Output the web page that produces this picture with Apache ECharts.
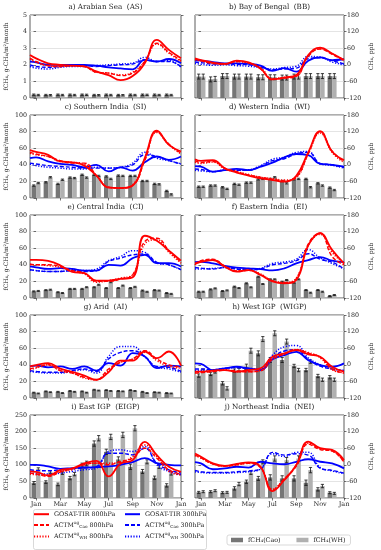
<!DOCTYPE html>
<html><head><meta charset="utf-8">
<script src="https://cdn.jsdelivr.net/npm/echarts@6/dist/echarts.min.js"></script>
<style>html,body{margin:0;padding:0;background:#fff}#c{width:381px;height:550px}</style>
</head><body><div id="c"></div>
<script>
// x positions (months, Jan=0) at which the curves were read
const lineX = [-0.5,0,1,2,3,4,5,6,7,8,9,10,11,12];
const barX = [0,1,2,3,4,5,6,7,8,9,10,11];
const monthTicks = [0,2,4,6,8,10,12];
const monthNames = ['Jan','Mar','May','Jul','Sep','Nov','Jan'];

// a) Arabian Sea (left-axis units)
const AS_TIR800 = [2.59,2.39,2.09,2.0,1.95,1.9,1.6,1.38,1.08,1.33,2.1,3.5,2.9,2.39];
const AS_CAO800 = [2.4,2.2,1.95,1.9,1.95,1.9,1.55,1.5,1.35,1.5,2.2,3.3,2.75,2.25];
const AS_WH800  = [2.35,2.15,1.95,1.9,1.95,1.9,1.55,1.5,1.4,1.55,2.2,3.25,2.7,2.2];
const AS_TIR300 = [2.2,2.15,2.0,2.0,2.0,2.0,1.95,1.85,1.78,1.73,2.3,2.2,2.35,2.1];
const AS_CAO300 = [2.0,1.9,1.85,1.9,1.95,1.95,1.9,1.95,2.0,2.05,2.3,2.2,2.2,1.9];
const AS_WH300  = [1.9,1.8,1.75,1.85,1.9,1.9,1.95,2.0,2.05,2.1,2.45,2.2,2.25,1.85];
const AS_barCao = [0.2,0.18,0.2,0.2,0.2,0.18,0.2,0.18,0.2,0.2,0.2,0.2];
const AS_barWH  = [0.18,0.17,0.18,0.18,0.19,0.17,0.18,0.17,0.18,0.19,0.18,0.18];
const AS_err    = [0.04,0.04,0.04,0.04,0.04,0.04,0.04,0.04,0.04,0.04,0.04,0.04];

// b) Bay of Bengal (ppb)
const BB_TIR800 = [23,17,8,3,15,9,-13,-53,-46,-37,35,62,41,17];
const BB_CAO800 = [20,15,5,3,12,7,-15,-52,-48,-42,30,57,38,15];
const BB_WH800  = [18,14,5,3,11,6,-10,-50,-45,-40,32,58,40,18];
const BB_TIR300 = [17,15,10,5,5,3,-3,-22,-12,-25,15,27,17,20];
const BB_CAO300 = [10,8,3,3,2,0,-8,-18,-15,-12,22,25,15,3];
const BB_WH300  = [5,2,-2,0,-3,-5,-10,-15,-10,-5,30,28,10,0];
const BB_barCao = [1.29,1.12,1.32,1.29,1.29,1.25,1.25,1.23,1.29,1.32,1.32,1.32];
const BB_barWH  = [1.29,1.15,1.32,1.29,1.29,1.25,1.25,1.23,1.29,1.32,1.32,1.32];
const BB_err    = [0.15,0.15,0.15,0.15,0.15,0.15,0.15,0.15,0.15,0.15,0.15,0.15];

// c) Southern India
const SI_TIR800 = [57.7,55.6,52,44,43,39,27,12.5,12,15,48,81,64,56];
const SI_CAO800 = [55,53,50,45,42,42,27,13,12,15,45,80,65,54];
const SI_WH800  = [54,52,50,44,43,41,27,13,12,16,47,79,64,53];
const SI_TIR300 = [48,49,44,41,40,37,40,32,37,33,43,50,46,50];
const SI_CAO300 = [42,41,39,38,37,36,36,36,37,40,52,50,45,41];
const SI_WH300  = [41,39,37,36,35,35,37,36,37,42,55,48,45,41];
const SI_barCao = [15,19,17,24.6,28,28,26,27,26.6,20.5,17,8.5];
const SI_barWH  = [18,25,22,24,24.6,26.6,23,26.6,26.6,20.5,16.5,4.4];
const SI_err    = [0.8,0.8,0.8,0.8,0.8,0.8,0.8,0.8,0.8,0.8,0.8,0.8];

// d) Western India (ppb)
const WI_TIR800 = [20,14,17,-13,-28,-39,-49,-55,-61,-40,45,122,48,17];
const WI_CAO800 = [15,8,12,-12,-25,-37,-45,-52,-58,-45,40,120,50,12];
const WI_WH800  = [10,5,10,-15,-25,-35,-45,-50,-55,-45,40,115,45,8];
const WI_TIR300 = [-5,-7,-25,-19,-15,-19,-7,8,27,39,35,3,0,-7];
const WI_CAO300 = [-15,-17,-25,-20,-20,-20,-5,15,22,40,45,5,0,-10];
const WI_WH300  = [-20,-22,-25,-18,-20,-18,-3,20,28,45,48,3,-2,-12];
const WI_barCao = [13.6,15,13,17,18.5,22.5,23,20.5,22.5,23,17.7,12.5];
const WI_barWH  = [13.6,15,11,16,18.5,23,25,17.7,23,13,15,9.6];
const WI_err    = [0.8,0.8,0.8,0.8,0.8,0.8,0.8,0.8,0.8,0.8,0.8,0.8];

// e) Central India
const CI_TIR800 = [46,46,44.6,39.5,31.5,30,21,21,23,25,75,69,57,45];
const CI_CAO800 = [41,40,40,38,33,30,20,20,23,28,68,72,57,43];
const CI_WH800  = [40,40,39,37,32,29,19,21,24,28,65,70,55,42];
const CI_TIR300 = [38,37,35,36,35,33,33,40,39,48,52,42,42,38];
const CI_CAO300 = [34,33,32,32,33,32,33,44,48,52,53,43,40,34];
const CI_WH300  = [34,33,32,32,34,33,35,45,50,57,55,42,40,34];
const CI_barCao = [8,9.5,7,11,11,13,12,12,12,9,9.5,6];
const CI_barWH  = [8.5,10,6,11,13,16,19,15,13.5,7.5,9,5];
const CI_err    = [0.6,0.6,0.6,0.6,0.6,0.6,0.6,0.6,0.6,0.6,0.6,0.6];

// f) Eastern India (ppb)
const EI_TIR800 = [5,11,17,-7,-25,-19,-37,-60,-67,-55,70,114,54,5];
const EI_CAO800 = [0,15,20,-5,-22,-20,-35,-58,-65,-50,75,115,30,0];
const EI_WH800  = [0,12,18,-5,-22,-20,-33,-58,-63,-48,70,110,45,5];
const EI_TIR300 = [10,11,5,-4,-10,-13,-16,-20,-13,5,17,28,15,10];
const EI_CAO300 = [-10,-12,-15,-10,-15,-18,-15,0,5,15,40,20,10,-15];
const EI_WH300  = [-15,-15,-13,-10,-15,-20,-13,5,10,20,55,25,5,-15];
const EI_barCao = [7.6,10.4,8.4,13.7,17.7,25.7,22.5,19.7,18.5,9.6,9.6,2.4];
const EI_barWH  = [7.6,11.6,9.2,12,12.9,16.9,22.5,21.7,22.5,6.4,7.6,3.6];
const EI_err    = [0.6,0.6,0.6,0.6,0.6,0.6,0.6,0.6,0.6,0.6,0.6,0.6];

// g) Arid
const AI_TIR800 = [38,39.5,42,35.5,31.5,27,22,31,45,45,56,48,56,39];
const AI_CAO800 = [35,37,40,33,30,25,22,35,43,47,57,47,40,37];
const AI_WH800  = [34,36,40,33,30,24,22,33,43,47,55,45,38,36];
const AI_TIR300 = [38,39,37,38,35,38,33,42,39,54,50,36,39,38];
const AI_CAO300 = [33,32,31,31,33,35,32,47,55,57,50,38,37,32];
const AI_WH300  = [32,31,30,30,32,34,30,50,62,62,50,37,35,31];
const AI_barCao = [6.5,8,7.5,8.5,8,10,9.5,8.5,9.5,7.5,7,6];
const AI_barWH  = [5.5,7,6,7.5,6.5,9,8.5,8,8.5,6,6.5,5.5];
const AI_err    = [0.5,0.5,0.5,0.5,0.5,0.5,0.5,0.5,0.5,0.5,0.5,0.5];

// h) West IGP (ppb)
const WIGP_TIR800 = [-25,-25,-21,-19,-25,-19,-13,29,41,53,38,29,-7,-25];
const WIGP_CAO800 = [-30,-28,-25,-20,-22,-25,-22,20,40,55,42,28,-15,-30];
const WIGP_WH800  = [-28,-26,-22,-18,-25,-25,-20,20,38,55,45,25,-18,-28];
const WIGP_TIR300 = [5,3,-19,-13,-7,-13,-19,20,35,47,17,-1,-7,5];
const WIGP_CAO300 = [-15,-15,-18,-12,-10,-15,-18,25,50,55,20,-5,-15,-20];
const WIGP_WH300  = [-20,-20,-20,-15,-10,-13,-15,35,65,70,25,0,-15,-20];
const WIGP_barCao = [27,29,17.7,33,37.8,53.8,45.8,45.8,38.6,33.7,26.5,25];
const WIGP_barWH  = [33,32,11.6,33.7,57,71,78,68,33.7,43.8,22,22];
const WIGP_err    = [2,2,2,2,3,3,3,3,2,2,2,2];

// i) East IGP
const EIGP_TIR800 = [80,79,68,84,89,104,112,65,104,114,169,129,94,79];
const EIGP_CAO800 = [75,73,65,78,88,100,105,100,110,120,150,120,85,72];
const EIGP_WH800  = [72,70,68,80,85,102,105,105,108,125,160,125,80,70];
const EIGP_TIR300 = [100,100,95,88,90,92,93,95,100,108,120,105,100,98];
const EIGP_CAO300 = [85,83,82,85,88,90,95,135,135,130,150,105,85,75];
const EIGP_WH300  = [75,73,72,75,80,85,90,140,145,140,155,100,80,70];
const EIGP_barCao = [45,48,41,60,98,164,139,116,94,80,61,38];
const EIGP_barWH  = [87,78,75,72,104,180,184,190,210,109,94,74];
const EIGP_err    = [4,4,4,5,7,8,8,8,8,6,5,5];

// j) Northeast India (ppb)
const NEI_TIR800 = [41,29,5,-4,3,9,-7,-95,-55,-1,84,60,54,17];
const NEI_CAO800 = [35,25,3,-5,0,5,-10,-90,-50,-5,75,55,50,10];
const NEI_WH800  = [33,24,3,-5,0,6,-10,-88,-50,0,78,58,50,12];
const NEI_TIR300 = [10,5,-16,-13,-7,-10,11,5,2,11,20,11,5,-13];
const NEI_CAO300 = [-20,-25,-28,-28,-25,-22,-15,45,35,40,35,-12,-20,-30];
const NEI_WH300  = [-25,-28,-30,-30,-28,-25,-15,40,30,45,45,-10,-22,-32];
const NEI_barCao = [17,19,16,29,49,59,62,59,59,46,26,16];
const NEI_barWH  = [19,22,17,42,76,109,119,114,119,84,36,14];
const NEI_err    = [3,3,3,5,5,6,8,8,8,8,5,3];

const titles = ['a) Arabian Sea  (AS)','b) Bay of Bengal  (BB)','c) Southern India  (SI)','d) Western India  (WI)',
  'e) Central India  (CI)','f) Eastern India  (EI)','g) Arid  (AI)','h) West IGP  (WIGP)',
  'i) East IGP  (EIGP)','j) Northeast India  (NEI)'];
const leftMax = [5,100,100,100,250];
const leftInt = [1,20,20,20,50];
const rightMin = -120, rightMax = 180, rightInt = 60;

const seriesNames = ['GOSAT-TIR 800hPa','ACTM Cao 800hPa','ACTM WH 800hPa','GOSAT-TIR 300hPa','ACTM Cao 300hPa','ACTM WH 300hPa'];
const barNames = ['fCH\u2084(Cao)','fCH\u2084(WH)'];

const panelData = [
  [AS_TIR800,AS_CAO800,AS_WH800,AS_TIR300,AS_CAO300,AS_WH300,AS_barCao,AS_barWH,AS_err],
  [BB_TIR800,BB_CAO800,BB_WH800,BB_TIR300,BB_CAO300,BB_WH300,BB_barCao,BB_barWH,BB_err],
  [SI_TIR800,SI_CAO800,SI_WH800,SI_TIR300,SI_CAO300,SI_WH300,SI_barCao,SI_barWH,SI_err],
  [WI_TIR800,WI_CAO800,WI_WH800,WI_TIR300,WI_CAO300,WI_WH300,WI_barCao,WI_barWH,WI_err],
  [CI_TIR800,CI_CAO800,CI_WH800,CI_TIR300,CI_CAO300,CI_WH300,CI_barCao,CI_barWH,CI_err],
  [EI_TIR800,EI_CAO800,EI_WH800,EI_TIR300,EI_CAO300,EI_WH300,EI_barCao,EI_barWH,EI_err],
  [AI_TIR800,AI_CAO800,AI_WH800,AI_TIR300,AI_CAO300,AI_WH300,AI_barCao,AI_barWH,AI_err],
  [WIGP_TIR800,WIGP_CAO800,WIGP_WH800,WIGP_TIR300,WIGP_CAO300,WIGP_WH300,WIGP_barCao,WIGP_barWH,WIGP_err],
  [EIGP_TIR800,EIGP_CAO800,EIGP_WH800,EIGP_TIR300,EIGP_CAO300,EIGP_WH300,EIGP_barCao,EIGP_barWH,EIGP_err],
  [NEI_TIR800,NEI_CAO800,NEI_WH800,NEI_TIR300,NEI_CAO300,NEI_WH300,NEI_barCao,NEI_barWH,NEI_err]
];

// ---- styling / layout ----
const FONT = 'DejaVu Serif';
const gridLeft = [30, 195], gridW = [151, 149];
const rowTop = [15, 115, 215, 315, 415], gridH = 83;
const lineStyles = [
  {color:'#ff0000', type:'solid', width:1.8},
  {color:'#ff0000', type:[4,2], width:1.4},
  {color:'#ff0000', type:[1.2,1.6], width:1.5},
  {color:'#0000ff', type:'solid', width:1.8},
  {color:'#0000ff', type:[4,2], width:1.4},
  {color:'#0000ff', type:[1.2,1.6], width:1.5}
];
const BW = 4.5;

const grids = [], xAxes = [], yAxes = [], series = [], titleArr = [];
panelData.forEach((pd, k) => {
  const col = k % 2, row = Math.floor(k / 2);
  grids.push({left: gridLeft[col], top: rowTop[row], width: gridW[col], height: gridH,
    show: true, borderColor: '#333', borderWidth: 0.8, backgroundColor: 'transparent'});
  titleArr.push({text: titles[k], left: gridLeft[col] + gridW[col] / 2, top: rowTop[row] - 11.5,
    textAlign: 'center', padding: 0,
    textStyle: {fontFamily: FONT, fontSize: 7.2, fontWeight: 'normal', color: '#222'}});
  const bottomRow = row === 4;
  xAxes.push({gridIndex: k, type: 'value', min: -0.5, max: 12,
    axisLine: {show: false}, splitLine: {show: false},
    axisTick: {show: true, length: 2.5, customValues: monthTicks, lineStyle: {color: '#333', width: 0.7}},
    axisLabel: {show: bottomRow, customValues: monthTicks, margin: 3,
      formatter: v => monthNames[monthTicks.indexOf(v)] || '',
      fontFamily: FONT, fontSize: 6.5, color: '#222'}});
  // left axis (fCH4)
  yAxes.push({gridIndex: k, type: 'value', position: 'left', min: 0, max: leftMax[row], interval: leftInt[row],
    axisLine: {show: false}, splitLine: {show: false},
    axisTick: {show: true, length: 2.5, lineStyle: {color: '#333', width: 0.7}},
    axisLabel: {show: col === 0, margin: 3, fontFamily: FONT, fontSize: 6.3, color: '#222'},
    name: col === 0 ? 'fCH\u2084, g-CH\u2084/m\u00b2/month' : '', nameLocation: 'middle', nameGap: 21,
    nameTextStyle: {fontFamily: FONT, fontSize: 6, color: '#222'}});
  // right axis (CH4 ppb)
  yAxes.push({gridIndex: k, type: 'value', position: 'right', min: rightMin, max: rightMax, interval: rightInt,
    axisLine: {show: false},
    splitLine: {show: true, lineStyle: {color: '#d8d8d8', width: 0.7}},
    axisTick: {show: true, length: 2.5, lineStyle: {color: '#333', width: 0.7}},
    axisLabel: {show: col === 1, margin: 3, fontFamily: FONT, fontSize: 6.3, color: '#222'},
    name: col === 1 ? 'CH\u2084, ppb' : '', nameLocation: 'middle', nameGap: 24, nameRotate: 90,
    nameTextStyle: {fontFamily: FONT, fontSize: 6, color: '#222'}});
  const yl = 2 * k, yr = 2 * k + 1;
  const lineY = col === 0 ? yl : yr;
  // bars
  [pd[6], pd[7]].forEach((vals, b) => {
    series.push({type: 'bar', name: barNames[b], xAxisIndex: k, yAxisIndex: yl,
      data: barX.map((x, i) => [x, vals[i]]), barWidth: BW, barGap: '0%', z: 2,
      itemStyle: {color: b === 0 ? '#767676' : '#b0b0b0'}, silent: true});
  });
  [pd[6], pd[7]].forEach((vals, b) => {
    series.push({type: 'custom', xAxisIndex: k, yAxisIndex: yl, z: 3, silent: true,
      data: barX.map((x, i) => [x, vals[i], pd[8][i], b === 0 ? -1 : 1]),
      renderItem: (params, api) => {
        const x = api.value(0), y = api.value(1), e = api.value(2), side = api.value(3);
        const t = api.coord([x, y + e]), bt = api.coord([x, y - e]);
        const cx = t[0] + side * BW / 2;
        const st = {stroke: '#111', lineWidth: 0.8};
        return {type: 'group', children: [
          {type: 'line', shape: {x1: cx, y1: t[1], x2: cx, y2: bt[1]}, style: st},
          {type: 'line', shape: {x1: cx - 1.6, y1: t[1], x2: cx + 1.6, y2: t[1]}, style: st},
          {type: 'line', shape: {x1: cx - 1.6, y1: bt[1], x2: cx + 1.6, y2: bt[1]}, style: st}
        ]};
      }});
  });
  // lines
  for (let s = 0; s < 6; s++) {
    series.push({type: 'line', name: seriesNames[s], xAxisIndex: k, yAxisIndex: lineY,
      data: lineX.map((x, i) => [x, pd[s][i]]), smooth: 0.45, symbol: 'none', z: 5 + (s < 3 ? 1 : 0),
      lineStyle: lineStyles[s], itemStyle: {color: lineStyles[s].color}, silent: true});
  }
});

const legendText = {fontFamily: FONT, fontSize: 6.3, color: '#222',
  rich: {
    m: {fontFamily: FONT, fontSize: 6.3, color: '#222'},
    sp: {fontFamily: FONT, fontSize: 4.2, color: '#222', padding: [0, 0, 4, 0]},
    sb: {fontFamily: FONT, fontSize: 4.2, color: '#222', padding: [4, 0, 0, 0]}
  }};
const legendFmt = name => {
  if (name.startsWith('ACTM')) {
    const p = name.split(' ');
    return '{m|ACTM}{sp|ag}{sb|' + p[1] + '}{m| ' + p[2] + '}';
  }
  return '{m|' + name + '}';
};
const lineLegendBase = {orient: 'vertical', top: 511, itemWidth: 15, itemHeight: 8,
  itemGap: 3.5, padding: 0, textStyle: legendText, formatter: legendFmt, selectedMode: false,
  itemStyle: {opacity: 0}};

const option = {
  animation: false,
  backgroundColor: '#fff',
  title: titleArr,
  grid: grids,
  xAxis: xAxes,
  yAxis: yAxes,
  series: series,
  legend: [
    Object.assign({data: seriesNames.slice(0, 3), left: 33}, lineLegendBase),
    Object.assign({data: seriesNames.slice(3, 6), left: 124}, lineLegendBase),
    {data: barNames, orient: 'horizontal', left: 227, top: 535, itemWidth: 12, itemHeight: 4.5,
      itemGap: 16, padding: [2, 5, 2, 4], icon: 'rect', borderColor: '#cfcfcf', borderWidth: 0.8, borderRadius: 2,
      textStyle: {fontFamily: FONT, fontSize: 6.3, color: '#222'}, selectedMode: false}
  ],
  graphic: [
    {type: 'rect', left: 31, top: 507, shape: {width: 173, height: 40, r: 2},
      style: {fill: 'none', stroke: '#cfcfcf', lineWidth: 0.8}, silent: true}
  ]
};

const chart = echarts.init(document.getElementById('c'), null, {renderer: 'canvas'});
chart.setOption(option);
</script>
</body></html>
